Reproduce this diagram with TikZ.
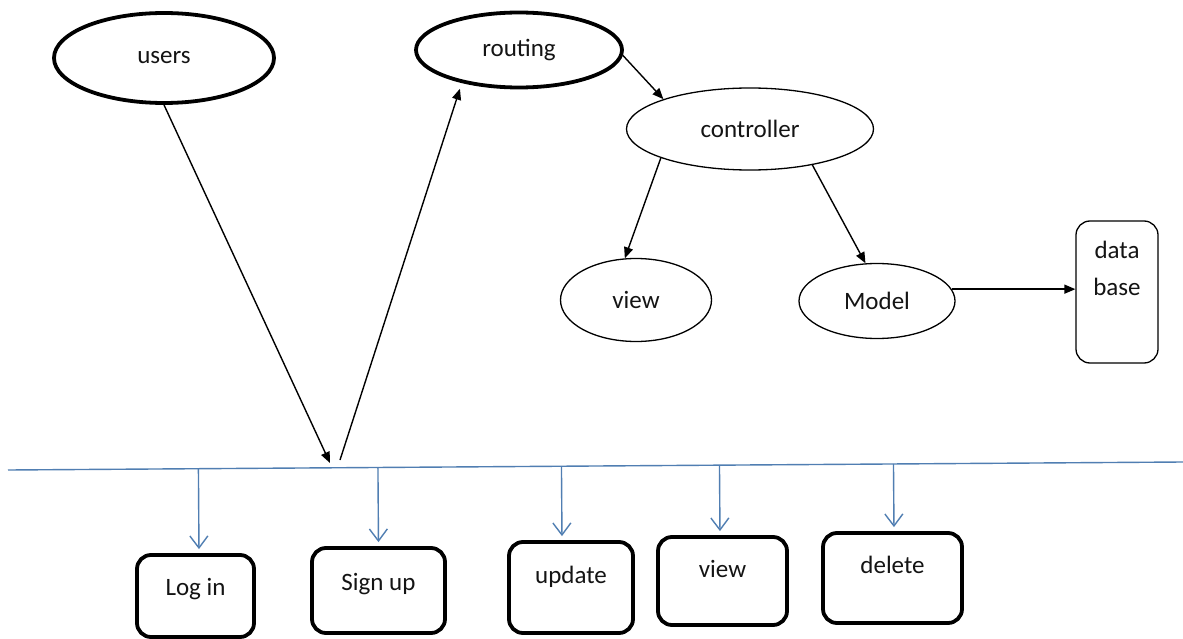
\documentclass[tikz,border=0pt]{standalone}
\usepackage{fontspec}
\setmainfont{Carlito}
\usetikzlibrary{shapes.geometric,arrows.meta,calc}
\definecolor{busblue}{RGB}{80,126,178}
\begin{document}
\begin{tikzpicture}[x=1pt,y=-1pt,
  every node/.style={font=\fontsize{25}{37}\selectfont, text=black!92},
  heavy/.style={draw, ellipse, line width=3.8pt, inner sep=0pt},
  light/.style={draw, ellipse, line width=1.3pt, inner sep=0pt},
  opbox/.style={draw, rounded corners=14pt, line width=3.8pt, inner xsep=0pt, inner ysep=0pt},
  flow/.style={line width=1.4pt, -{Triangle[length=11pt,width=9pt]}},
  drop/.style={draw=busblue, line width=1.4pt, -{Straight Barb[length=12pt,width=18pt]}, shorten >=4pt},
]
\fill[white] (0,0) rectangle (1183,639);
\useasboundingbox (0,0) rectangle (1183,639);

% request side
\node[heavy, minimum width=220pt, minimum height=90pt] (users) at (164,58) {users};
\node[heavy, minimum width=206pt, minimum height=75pt] (routing) at (519,50) {routing};

% MVC part
\node[light, minimum width=247pt, minimum height=82pt] (controller) at (750,129) {controller};
\node[light, minimum width=151pt, minimum height=83pt] (view) at (636,300) {view};
\node[light, minimum width=156pt, minimum height=75pt] (model) at (877,301) {Model};
\node[draw, rounded corners=14pt, line width=1.3pt, inner sep=0pt, minimum width=82pt,
      align=center, text height=74pt, text depth=68pt] (db) at (1117,292) {data\\base};

% operations
\node[opbox, minimum width=117pt, text height=40pt, text depth=42pt] (login)  at (195.5,596) {Log in};
\node[opbox, minimum width=133pt, text height=42pt, text depth=43pt] (signup) at (378.5,590.5) {Sign up};
\node[opbox, minimum width=124pt, text height=41pt, text depth=50pt] (update) at (571,587.5) {update};
\node[opbox, minimum width=129pt, text height=40pt, text depth=48pt] (opview) at (722.5,581) {view};
\node[opbox, minimum width=139pt, text height=40pt, text depth=50pt] (delete) at (892.5,578) {delete};

% bus line
\coordinate (busL) at (8,470);
\coordinate (busR) at (1183,462);
\draw[busblue, line width=1.4pt] (busL) -- (busR);

% drops from the bus to the operations
\draw[drop] ($(busL)!([xshift=3.5pt]login.north)!(busR)$) -- ([xshift=3.5pt]login.north);
\draw[drop] ($(busL)!(signup.north)!(busR)$) -- (signup.north);
\draw[drop] ($(busL)!([xshift=-9pt]update.north)!(busR)$) -- ([xshift=-9pt]update.north);
\draw[drop] ($(busL)!([xshift=-2.5pt]opview.north)!(busR)$) -- ([xshift=-2.5pt]opview.north);
\draw[drop] ($(busL)!([xshift=1.5pt]delete.north)!(busR)$) -- ([xshift=1.5pt]delete.north);

% request flow
\coordinate (uin) at (330,463);
\coordinate (rout) at (340,460);
\draw[flow] (users.south) -- (uin);
\draw[flow, shorten >=6pt] (rout) -- (routing.210);
\draw[flow] (routing.357) -- (controller.161);
\draw[flow] (controller.198) -- (view.105);
\draw[flow] (controller.330) -- (model.107);
\draw[flow] (model.9) -- (model.9 -| db.west);
\end{tikzpicture}
\end{document}
